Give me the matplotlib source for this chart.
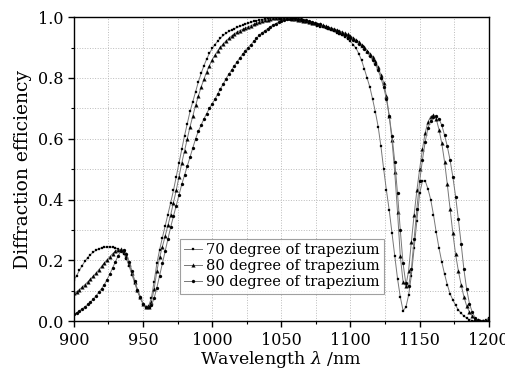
import numpy as np
import matplotlib
matplotlib.use("Agg")
import matplotlib.pyplot as plt
from matplotlib.ticker import MultipleLocator

# wavelength grid (nm), 2 nm step
WAVELENGTH = np.arange(900, 1202, 2)

EFF_70 = [
    0.135, 0.150, 0.167, 0.183, 0.197, 0.209, 0.219, 0.227, 0.233, 0.238,
    0.241, 0.243, 0.244, 0.244, 0.243, 0.241, 0.237, 0.231, 0.222, 0.205,
    0.180, 0.153, 0.125, 0.098, 0.075, 0.057, 0.047, 0.050, 0.075, 0.130,
    0.190, 0.235, 0.275, 0.313, 0.350, 0.390, 0.430, 0.475, 0.520, 0.565,
    0.610, 0.650, 0.690, 0.722, 0.755, 0.787, 0.815, 0.840, 0.862, 0.881,
    0.897, 0.910, 0.921, 0.931, 0.940, 0.947, 0.953, 0.958, 0.962, 0.966,
    0.970, 0.973, 0.977, 0.980, 0.983, 0.986, 0.988, 0.990, 0.992, 0.994,
    0.995, 0.996, 0.997, 0.998, 0.998, 0.998, 0.998, 0.997, 0.996, 0.995,
    0.994, 0.992, 0.990, 0.988, 0.985, 0.982, 0.979, 0.976, 0.972, 0.969,
    0.966, 0.963, 0.960, 0.957, 0.953, 0.949, 0.945, 0.940, 0.935, 0.928,
    0.920, 0.910, 0.898, 0.880, 0.858, 0.830, 0.800, 0.770, 0.730, 0.688,
    0.640, 0.575, 0.500, 0.430, 0.365, 0.290, 0.215, 0.140, 0.080, 0.035,
    0.045, 0.085, 0.150, 0.240, 0.330, 0.420, 0.460, 0.462, 0.435, 0.400,
    0.350, 0.292, 0.240, 0.195, 0.155, 0.120, 0.090, 0.070, 0.052, 0.037,
    0.026, 0.017, 0.010, 0.005, 0.002, 0.001, 0.000, 0.000, 0.001, 0.004,
    0.010,
]

EFF_80 = [
    0.091, 0.097, 0.104, 0.112, 0.120, 0.129, 0.138, 0.148, 0.158, 0.169,
    0.180, 0.191, 0.202, 0.212, 0.222, 0.230, 0.235, 0.236, 0.230, 0.215,
    0.188, 0.160, 0.130, 0.102, 0.078, 0.058, 0.047, 0.046, 0.062, 0.105,
    0.165, 0.210, 0.245, 0.280, 0.315, 0.350, 0.390, 0.430, 0.475, 0.520,
    0.560, 0.600, 0.640, 0.675, 0.710, 0.740, 0.770, 0.795, 0.820, 0.840,
    0.860, 0.875, 0.890, 0.901, 0.912, 0.922, 0.930, 0.938, 0.945, 0.951,
    0.956, 0.960, 0.964, 0.968, 0.972, 0.976, 0.980, 0.984, 0.987, 0.990,
    0.992, 0.994, 0.996, 0.997, 0.998, 0.998, 0.998, 0.997, 0.996, 0.995,
    0.993, 0.992, 0.990, 0.988, 0.986, 0.984, 0.982, 0.980, 0.978, 0.976,
    0.973, 0.971, 0.968, 0.965, 0.962, 0.959, 0.955, 0.951, 0.947, 0.943,
    0.938, 0.932, 0.926, 0.919, 0.910, 0.901, 0.890, 0.880, 0.870, 0.855,
    0.835, 0.810, 0.785, 0.740, 0.675, 0.595, 0.490, 0.360, 0.215, 0.130,
    0.115, 0.165, 0.260, 0.350, 0.430, 0.500, 0.565, 0.620, 0.655, 0.673,
    0.678, 0.665, 0.630, 0.585, 0.525, 0.450, 0.370, 0.290, 0.220, 0.165,
    0.120, 0.080, 0.050, 0.030, 0.018, 0.008, 0.003, 0.001, 0.000, 0.002,
    0.006,
]

EFF_90 = [
    0.022, 0.028, 0.034, 0.040, 0.047, 0.055, 0.063, 0.072, 0.083, 0.095,
    0.107, 0.120, 0.137, 0.155, 0.175, 0.195, 0.215, 0.230, 0.235, 0.222,
    0.195, 0.165, 0.133, 0.104, 0.079, 0.058, 0.047, 0.045, 0.052, 0.075,
    0.110, 0.150, 0.190, 0.230, 0.270, 0.310, 0.345, 0.380, 0.415, 0.450,
    0.480, 0.510, 0.540, 0.570, 0.600, 0.625, 0.645, 0.665, 0.683, 0.700,
    0.715, 0.730, 0.748, 0.765, 0.780, 0.798, 0.812, 0.826, 0.840, 0.853,
    0.866, 0.878, 0.890, 0.900, 0.910, 0.920, 0.930, 0.940, 0.948, 0.955,
    0.962, 0.968, 0.974, 0.979, 0.984, 0.988, 0.991, 0.993, 0.995, 0.996,
    0.996, 0.995, 0.993, 0.992, 0.990, 0.987, 0.985, 0.982, 0.979, 0.976,
    0.972, 0.969, 0.965, 0.961, 0.957, 0.953, 0.948, 0.944, 0.940, 0.935,
    0.930, 0.925, 0.920, 0.913, 0.905, 0.895, 0.885, 0.872, 0.860, 0.845,
    0.825, 0.800, 0.770, 0.730, 0.675, 0.610, 0.525, 0.420, 0.300, 0.190,
    0.125, 0.115, 0.170, 0.270, 0.370, 0.460, 0.530, 0.590, 0.635, 0.660,
    0.672, 0.675, 0.665, 0.645, 0.612, 0.575, 0.530, 0.475, 0.410, 0.335,
    0.255, 0.170, 0.105, 0.058, 0.030, 0.012, 0.004, 0.001, 0.000, 0.002,
    0.008,
]

labels = ["70 degree of trapezium", "80 degree of trapezium", "90 degree of trapezium"]
series = [EFF_70, EFF_80, EFF_90]
markers = ["s", "^", "o"]
msizes = [1.9, 2.6, 2.2]

plt.rcParams["font.family"] = ["DejaVu Serif"]
plt.rcParams["mathtext.fontset"] = "dejavuserif"

fig = plt.figure(figsize=(5.06, 3.73), dpi=100)
ax = fig.add_axes([0.146, 0.139, 0.820, 0.815])

for lab, eff, mk, ms in zip(labels, series, markers, msizes):
    ax.plot(WAVELENGTH, eff, color="#777777", linewidth=0.7,
            marker=mk, markersize=ms, markerfacecolor="black",
            markeredgecolor="black", markeredgewidth=0.2, label=lab)

ax.set_xlim(900, 1200)
ax.set_ylim(0, 1.0)
ax.xaxis.set_major_locator(MultipleLocator(50))
ax.xaxis.set_minor_locator(MultipleLocator(25))
ax.yaxis.set_major_locator(MultipleLocator(0.2))
ax.yaxis.set_minor_locator(MultipleLocator(0.1))
ax.yaxis.set_major_formatter(plt.FormatStrFormatter("%.1f"))
ax.grid(True, which="both", linestyle=":", color="#bbbbbb", linewidth=0.7)
ax.tick_params(which="major", direction="out", length=4, width=1.0, labelsize=11.5)
ax.tick_params(which="minor", direction="out", length=2.5, width=0.8)
for sp in ax.spines.values():
    sp.set_linewidth(1.0)

ax.set_xlabel("Wavelength $\\lambda$ /nm", fontsize=12.5, labelpad=0)
ax.set_ylabel("Diffraction efficiency", fontsize=13.5, labelpad=4)

leg = ax.legend(loc="lower left", bbox_to_anchor=(0.255, 0.09), fontsize=10.5,
                frameon=True, fancybox=False, edgecolor="#888888",
                handlelength=1.2, handletextpad=0.3, borderpad=0.3,
                labelspacing=0.15, borderaxespad=0)
leg.get_frame().set_linewidth(0.8)

fig.savefig("out.png", dpi=100)
